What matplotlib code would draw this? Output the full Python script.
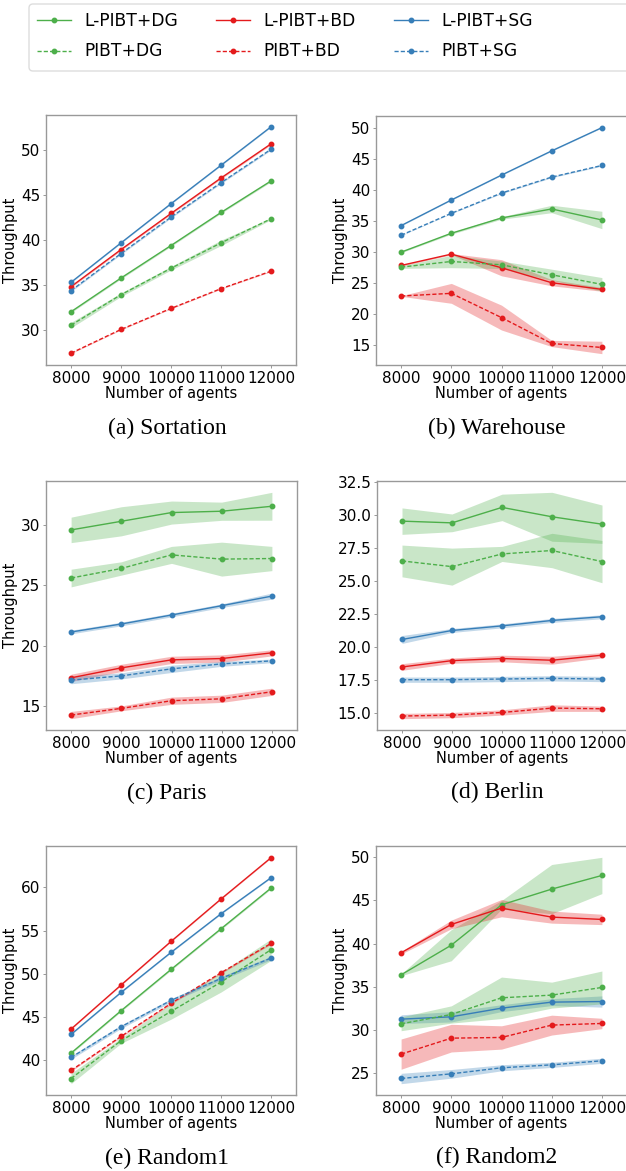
import matplotlib
matplotlib.use("Agg")
import matplotlib.pyplot as plt
from matplotlib.patches import FancyBboxPatch
from matplotlib.ticker import MultipleLocator, FormatStrFormatter

agents = [8000, 9000, 10000, 11000, 12000]
labels = ["L-PIBT+DG", "L-PIBT+BD", "L-PIBT+SG", "PIBT+DG", "PIBT+BD", "PIBT+SG"]
colors = {"DG": "#4daf4a", "BD": "#e41a1c", "SG": "#377eb8"}
panel_names = ["(a) Sortation", "(b) Warehouse", "(c) Paris",
               "(d) Berlin", "(e) Random1", "(f) Random2"]

# mean throughput per method, and half width of the shaded band
sortation_mean = {
    "L-PIBT+DG": [32.07, 35.81, 39.41, 43.07, 46.56],
    "L-PIBT+BD": [34.85, 38.96, 42.96, 46.89, 50.67],
    "L-PIBT+SG": [35.33, 39.70, 44.04, 48.30, 52.56],
    "PIBT+DG": [30.59, 33.96, 36.89, 39.70, 42.37],
    "PIBT+BD": [27.48, 30.11, 32.44, 34.63, 36.56],
    "PIBT+SG": [34.41, 38.52, 42.56, 46.37, 50.07],
}
sortation_err = {
    "L-PIBT+DG": [0.1, 0.1, 0.1, 0.1, 0.1],
    "L-PIBT+BD": [0.1, 0.1, 0.1, 0.1, 0.1],
    "L-PIBT+SG": [0.05, 0.05, 0.05, 0.05, 0.05],
    "PIBT+DG": [0.3, 0.2, 0.2, 0.3, 0.1],
    "PIBT+BD": [0.05, 0.05, 0.05, 0.05, 0.05],
    "PIBT+SG": [0.1, 0.1, 0.1, 0.1, 0.1],
}

warehouse_mean = {
    "L-PIBT+DG": [29.96, 33.00, 35.46, 36.91, 35.14],
    "L-PIBT+BD": [27.82, 29.64, 27.45, 25.04, 23.97],
    "L-PIBT+SG": [34.23, 38.35, 42.36, 46.26, 50.00],
    "PIBT+DG": [27.55, 28.46, 27.93, 26.32, 24.77],
    "PIBT+BD": [22.90, 23.33, 19.43, 15.26, 14.62],
    "PIBT+SG": [32.68, 36.21, 39.47, 42.04, 43.91],
}
warehouse_err = {
    "L-PIBT+DG": [0.1, 0.15, 0.2, 0.6, 1.4],
    "L-PIBT+BD": [0.1, 0.1, 1.3, 0.5, 0.3],
    "L-PIBT+SG": [0.05, 0.05, 0.05, 0.05, 0.05],
    "PIBT+DG": [0.2, 1.0, 0.6, 0.9, 1.1],
    "PIBT+BD": [0.05, 1.6, 2.0, 0.5, 1.0],
    "PIBT+SG": [0.05, 0.05, 0.1, 0.1, 0.1],
}

paris_mean = {
    "L-PIBT+DG": [29.56, 30.27, 30.99, 31.10, 31.51],
    "L-PIBT+BD": [17.36, 18.18, 18.84, 18.95, 19.42],
    "L-PIBT+SG": [21.14, 21.80, 22.54, 23.31, 24.10],
    "PIBT+DG": [25.59, 26.38, 27.50, 27.15, 27.20],
    "PIBT+BD": [14.29, 14.84, 15.47, 15.63, 16.21],
    "PIBT+SG": [17.17, 17.52, 18.10, 18.51, 18.76],
}
paris_err = {
    "L-PIBT+DG": [1.05, 1.2, 0.95, 0.75, 1.15],
    "L-PIBT+BD": [0.3, 0.3, 0.3, 0.3, 0.25],
    "L-PIBT+SG": [0.15, 0.15, 0.15, 0.15, 0.25],
    "PIBT+DG": [0.73, 0.55, 0.7, 1.4, 1.0],
    "PIBT+BD": [0.3, 0.2, 0.3, 0.3, 0.3],
    "PIBT+SG": [0.3, 0.25, 0.3, 0.2, 0.15],
}

berlin_mean = {
    "L-PIBT+DG": [29.54, 29.41, 30.58, 29.87, 29.31],
    "L-PIBT+BD": [18.51, 18.99, 19.15, 19.02, 19.40],
    "L-PIBT+SG": [20.59, 21.27, 21.62, 22.03, 22.31],
    "PIBT+DG": [26.53, 26.10, 27.06, 27.32, 26.48],
    "PIBT+BD": [14.80, 14.87, 15.07, 15.40, 15.35],
    "PIBT+SG": [17.55, 17.55, 17.60, 17.65, 17.60],
}
berlin_err = {
    "L-PIBT+DG": [1.0, 0.67, 1.0, 1.85, 1.45],
    "L-PIBT+BD": [0.25, 0.2, 0.25, 0.3, 0.2],
    "L-PIBT+SG": [0.3, 0.15, 0.15, 0.15, 0.15],
    "PIBT+DG": [1.2, 1.4, 0.57, 1.3, 1.6],
    "PIBT+BD": [0.2, 0.2, 0.2, 0.25, 0.2],
    "PIBT+SG": [0.2, 0.2, 0.2, 0.2, 0.2],
}

random1_mean = {
    "L-PIBT+DG": [40.77, 45.69, 50.48, 55.20, 59.92],
    "L-PIBT+BD": [43.56, 48.67, 53.73, 58.65, 63.44],
    "L-PIBT+SG": [42.94, 47.81, 52.46, 56.94, 61.12],
    "PIBT+DG": [37.83, 42.21, 45.61, 49.01, 52.77],
    "PIBT+BD": [38.76, 42.71, 46.54, 50.10, 53.50],
    "PIBT+SG": [40.27, 43.83, 46.89, 49.44, 51.80],
}
random1_err = {
    "L-PIBT+DG": [0.1, 0.1, 0.1, 0.1, 0.1],
    "L-PIBT+BD": [0.05, 0.05, 0.05, 0.05, 0.05],
    "L-PIBT+SG": [0.05, 0.05, 0.05, 0.05, 0.05],
    "PIBT+DG": [0.6, 0.3, 0.9, 1.15, 1.25],
    "PIBT+BD": [0.1, 0.1, 0.1, 0.1, 0.1],
    "PIBT+SG": [0.2, 0.2, 0.2, 0.2, 0.2],
}

random2_mean = {
    "L-PIBT+DG": [36.38, 39.81, 44.48, 46.30, 47.88],
    "L-PIBT+BD": [38.93, 42.21, 44.10, 43.06, 42.79],
    "L-PIBT+SG": [31.25, 31.52, 32.52, 33.22, 33.29],
    "PIBT+DG": [30.71, 31.79, 33.72, 34.03, 34.92],
    "PIBT+BD": [27.20, 29.05, 29.13, 30.56, 30.75],
    "PIBT+SG": [24.38, 24.92, 25.62, 25.96, 26.43],
}
random2_err = {
    "L-PIBT+DG": [0.1, 1.8, 0.5, 2.85, 2.1],
    "L-PIBT+BD": [0.15, 0.5, 1.0, 0.7, 0.6],
    "L-PIBT+SG": [0.5, 0.6, 0.4, 0.4, 0.65],
    "PIBT+DG": [0.8, 1.0, 2.4, 1.5, 1.9],
    "PIBT+BD": [1.75, 1.6, 1.35, 1.15, 0.6],
    "PIBT+SG": [0.6, 0.5, 0.35, 0.3, 0.3],
}

panels = [(sortation_mean, sortation_err), (warehouse_mean, warehouse_err),
          (paris_mean, paris_err), (berlin_mean, berlin_err),
          (random1_mean, random1_err), (random2_mean, random2_err)]

W, H = 626, 1171
fig = plt.figure(figsize=(W / 100, H / 100), dpi=100)

# axes boxes in pixels: left, top, right, bottom
boxes = [(46, 115, 296, 365), (376, 116, 627, 365),
         (46, 481, 297, 730), (377, 481, 627, 730),
         (46, 846, 296, 1095), (376, 846, 627, 1095)]
caption_pos = [(167, 428), (497, 428), (167, 793), (497, 792), (167, 1158), (497, 1157)]

handles = []
for i, ((mean, err), box) in enumerate(zip(panels, boxes)):
    l, t, r, b = box
    ax = fig.add_axes([l / W, 1 - b / H, (r - l) / W, (b - t) / H])
    for lab in labels:
        c = colors[lab.split("+")[1]]
        ls = "-" if lab.startswith("L-") else "--"
        m = mean[lab]
        e = err[lab]
        lo = [a - d for a, d in zip(m, e)]
        hi = [a + d for a, d in zip(m, e)]
        ax.fill_between(agents, lo, hi, color=c, alpha=0.3, linewidth=0)
        line, = ax.plot(agents, m, ls, color=c, lw=1.0, marker="o", ms=3.2,
                        dashes=(3, 1.5) if ls == "--" else (None, None), label=lab)
        if i == 0:
            handles.append(line)
    ax.set_xlim(7500, 12500)
    ax.set_xticks(agents)
    ax.set_xlabel("Number of agents", fontsize=10.5, labelpad=0)
    if i != 3:
        ax.set_ylabel("Throughput", fontsize=10.5, labelpad=2)
    if i == 1:
        ax.yaxis.set_major_locator(MultipleLocator(5))
    if i == 3:
        ax.yaxis.set_major_locator(MultipleLocator(2.5))
        ax.yaxis.set_major_formatter(FormatStrFormatter("%.1f"))
    ax.tick_params(labelsize=11, length=2, width=0.6, color="#888888", pad=2)
    for s in ax.spines.values():
        s.set_color("#999999")
        s.set_linewidth(1.0)
    fig.text(caption_pos[i][0] / W, 1 - caption_pos[i][1] / H, panel_names[i],
             ha="center", va="center", fontsize=17, family="Liberation Serif")

# legend ordered by column: DG, BD, SG; its frame runs off the right edge
order = [0, 3, 1, 4, 2, 5]
fig.legend([handles[k] for k in order], [labels[k] for k in order],
           loc="upper left", bbox_to_anchor=(29 / W, 1 - 4 / H), ncol=3,
           fontsize=12.3, columnspacing=2.2, labelspacing=0.75, frameon=False,
           borderaxespad=0, borderpad=0.45)
frame = FancyBboxPatch((0.29, H / 100 - 0.71), 6.3, 0.67,
                       boxstyle="round,pad=0,rounding_size=0.04",
                       transform=fig.dpi_scale_trans, facecolor="white",
                       edgecolor="#dddddd", linewidth=1.0, zorder=-1)
fig.patches.append(frame)

fig.savefig("out.png", dpi=100)
